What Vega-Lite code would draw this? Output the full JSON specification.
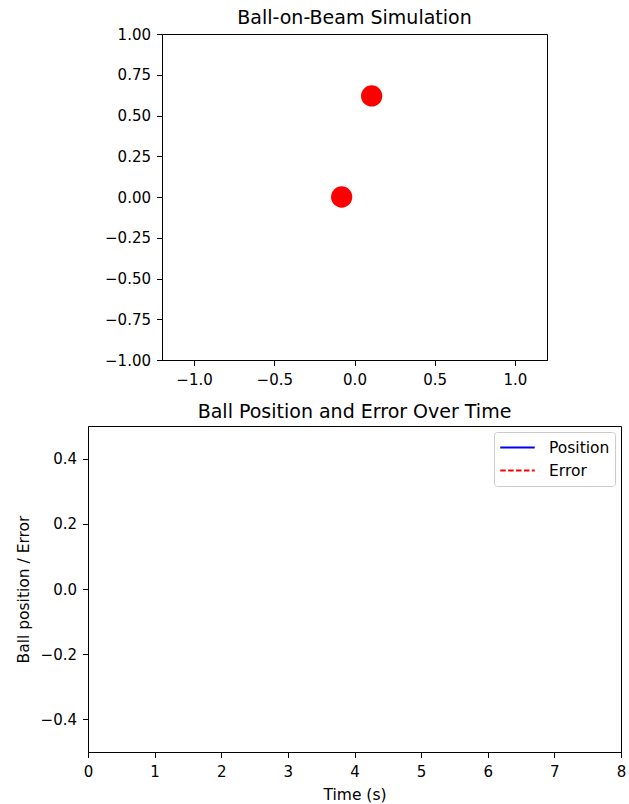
{
  "$schema": "https://vega.github.io/schema/vega-lite/v6.json",
  "padding": {"left": 15, "top": 8, "right": 6, "bottom": 5},
  "background": "white",
  "spacing": 66,
  "bounds": "flush",
  "center": true,
  "resolve": {"legend": {"color": "independent", "strokeDash": "independent"}},
  "config": {
    "font": "DejaVu Sans",
    "view": {"stroke": "black", "strokeWidth": 1},
    "axis": {
      "grid": false,
      "domainColor": "black",
      "tickColor": "black",
      "labelColor": "black",
      "titleColor": "black",
      "labelFont": "DejaVu Sans",
      "titleFont": "DejaVu Sans",
      "labelFontSize": 15,
      "titleFontSize": 15.5,
      "titleFontWeight": "normal",
      "tickSize": 5.5,
      "labelFlush": false,
      "labelOverlap": false
    },
    "axisX": {"labelPadding": 7, "titlePadding": 8},
    "axisY": {"labelPadding": 6, "titlePadding": 9},
    "title": {"fontSize": 19, "fontWeight": "normal", "color": "black", "font": "DejaVu Sans", "anchor": "middle", "frame": "group", "offset": -1},
    "legend": {
      "orient": "top-right",
      "offset": 6,
      "padding": 5,
      "strokeColor": "#cccccc",
      "fillColor": "white",
      "cornerRadius": 3,
      "symbolType": "stroke",
      "symbolStrokeWidth": 2,
      "symbolSize": 1190,
      "labelFontSize": 15.5,
      "labelColor": "black",
      "labelFont": "DejaVu Sans",
      "labelOffset": 13,
      "clipHeight": 21,
      "rowPadding": 2
    }
  },
  "vconcat": [
    {
      "title": "Ball-on-Beam Simulation",
      "width": 385,
      "height": 326,
      "data": {"values": [{"x": 0.107, "y": 0.62}, {"x": -0.08, "y": 0.0}]},
      "mark": {"type": "circle", "color": "red", "opacity": 1, "size": 452},
      "encoding": {
        "x": {"field": "x", "type": "quantitative", "scale": {"domain": [-1.2, 1.2], "nice": false, "zero": false}, "axis": {"values": [-1, -0.5, 0, 0.5, 1], "format": ".1f", "title": null}},
        "y": {"field": "y", "type": "quantitative", "scale": {"domain": [-1, 1], "nice": false, "zero": false}, "axis": {"values": [-1, -0.75, -0.5, -0.25, 0, 0.25, 0.5, 0.75, 1], "format": ".2f", "title": null}}
      }
    },
    {
      "title": {"text": "Ball Position and Error Over Time", "offset": 4},
      "width": 533,
      "height": 326,
      "data": {"values": [{"series": "Position", "time": null, "value": null}, {"series": "Error", "time": null, "value": null}]},
      "mark": {"type": "line", "strokeWidth": 1.5},
      "encoding": {
        "x": {"field": "time", "type": "quantitative", "scale": {"domain": [0, 8], "nice": false, "zero": false}, "axis": {"values": [0, 1, 2, 3, 4, 5, 6, 7, 8], "format": "d", "title": "Time (s)"}},
        "y": {"field": "value", "type": "quantitative", "scale": {"domain": [-0.5, 0.5], "nice": false, "zero": false}, "axis": {"values": [-0.4, -0.2, 0, 0.2, 0.4], "format": ".1f", "title": "Ball position / Error"}},
        "color": {"field": "series", "type": "nominal", "scale": {"domain": ["Position", "Error"], "range": ["blue", "red"]}, "legend": {"title": null}},
        "strokeDash": {"field": "series", "type": "nominal", "scale": {"domain": ["Position", "Error"], "range": [[1, 0], [5.5, 2.4]]}, "legend": {"title": null}}
      }
    }
  ]
}
